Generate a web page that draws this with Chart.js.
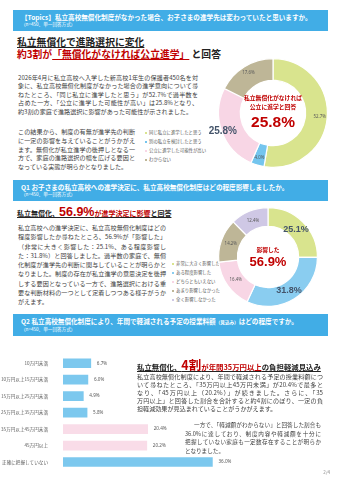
<!DOCTYPE html>
<html lang="ja">
<head>
<meta charset="UTF-8">
<title>私立高校無償化 アンケート結果</title>
<script src="https://cdn.jsdelivr.net/npm/chart.js"></script>
<style>
  html, body { margin: 0; padding: 0; background: #fff; }
  body {
    width: 340px; height: 480px; position: relative; overflow: hidden;
    font-family: "Noto Sans CJK JP", "Noto Sans", sans-serif; color: #333;
  }
  .qbar {
    position: absolute; left: 13px; width: 315px; background: #41ADE6; color: #fff;
    box-sizing: border-box; padding: 3px 0 0 8px;
  }
  .qbar .q { font-size: 6.6px; font-weight: bold; line-height: 8px; white-space: nowrap; }
  .qbar .n { font-size: 4.6px; line-height: 6px; white-space: nowrap; }
  .qbar small { font-size: 4.6px; }
  .para { position: absolute; font-size: 6.1px; color: #404040; }
  .para span { display: block; text-align: justify; text-align-last: justify; }
  .para span.last { text-align-last: left; }
  .title { position: absolute; font-weight: bold; white-space: nowrap; color: #222; }
  .red { color: #C00000; }
  .ul { text-decoration: underline; text-underline-offset: 1px; }
  .legend { position: absolute; font-size: 4.4px; color: #595959; }
  .legend div { height: 9px; line-height: 9px; white-space: nowrap; }
  .legend i { display: inline-block; width: 2px; height: 2px; margin-right: 2px; vertical-align: middle; }
  .center { position: absolute; text-align: center; color: #C00000; font-weight: bold; white-space: nowrap; }
  canvas { position: absolute; }
</style>
</head>
<body>

<div class="qbar" style="top:10px;height:21px;">
  <div class="q">【Topics】私立高校無償化制度がなかった場合、お子さまの進学先は変わっていたと思いますか。</div>
  <div class="n">（n=450、単一回答方式）</div>
</div>

<div class="title ul" style="left:17px;top:36px;font-size:9.8px;line-height:13px;">私立無償化で進路選択に変化</div>
<div class="title" style="left:17px;top:48px;font-size:9.8px;line-height:13px;"><span class="red">約3割が<span class="ul">「無償化がなければ公立進学」</span></span> と回答</div>

<div class="para" style="left:18px;top:74px;width:180px;line-height:8.4px;">
  <span>2026年4月に私立高校へ入学した新高校1年生の保護者450名を対</span>
  <span>象に、私立高校無償化制度がなかった場合の進学意向について尋</span>
  <span>ねたところ、「同じ私立に進学したと思う」が52.7%で過半数を</span>
  <span>占めた一方、「公立に進学した可能性が高い」は25.8%となり、</span>
  <span class="last">約3割の家庭で進路選択に影響があった可能性が示されました。</span>
</div>
<div class="para" style="left:18px;top:128px;width:117px;line-height:8.8px;">
  <span>この結果から、制度の有無が進学先の判断</span>
  <span>に一定の影響を与えていることがうかがえ</span>
  <span>ます。無償化が私立進学の後押しとなる一</span>
  <span>方で、家庭の進路選択の幅を広げる要因と</span>
  <span class="last">なっている実態が明らかとなりました。</span>
</div>

<div class="legend" id="legend1" style="left:145px;top:128px;"></div>
<canvas id="topicChart" width="140" height="120" style="left:200px;top:53px;"></canvas>
<div class="center" style="left:243px;top:93px;width:60px;font-size:5.8px;line-height:9px;">私立無償化がなければ<br>公立に進学と回答</div>
<div class="center" style="left:243px;top:113px;width:60px;font-size:15.5px;line-height:18px;font-family:'Liberation Sans','Noto Sans',sans-serif;">25.8%</div>

<div class="qbar" style="top:180px;height:21px;">
  <div class="q">Q1 お子さまの私立高校への進学決定に、私立高校無償化制度はどの程度影響しましたか。</div>
  <div class="n">（n=450、単一回答方式）</div>
</div>

<div class="title ul" style="left:17px;top:205px;font-size:7px;line-height:15px;">私立無償化、<span class="red" style="font-size:12.5px;font-family:'Liberation Sans','Noto Sans',sans-serif;">56.9%</span><span class="red">が進学決定に影響</span>と回答</div>

<div class="para" style="left:18px;top:223px;width:148px;line-height:9.3px;">
  <span>私立高校への進学決定に、私立高校無償化制度はどの</span>
  <span>程度影響したか尋ねたところ、56.9%が「影響した」</span>
  <span>（非常に大きく影響した：25.1%、ある程度影響し</span>
  <span>た：31.8%）と回答しました。過半数の家庭で、無償</span>
  <span>化制度が進学先の判断に関与していることが明らかと</span>
  <span>なりました。制度の存在が私立進学の意思決定を後押</span>
  <span>しする要因となっている一方で、進路選択における重</span>
  <span>要な判断材料の一つとして定着しつつある様子がうか</span>
  <span class="last">がえます。</span>
</div>

<div class="legend" id="legend2" style="left:172px;top:259px;"></div>
<canvas id="q1Chart" width="135" height="112" style="left:205px;top:200px;"></canvas>
<div class="center" style="left:238px;top:245px;width:60px;font-size:5.8px;line-height:9px;">影響した</div>
<div class="center" style="left:238px;top:254px;width:60px;font-size:13px;line-height:16px;font-family:'Liberation Sans','Noto Sans',sans-serif;">56.9%</div>

<div class="qbar" style="top:314px;height:22px;">
  <div class="q">Q2 私立高校無償化制度により、年間で軽減される予定の授業料額<small>（見込み）</small>はどの程度ですか。</div>
  <div class="n">（n=450、単一回答方式）</div>
</div>

<canvas id="q2Chart" width="340" height="137" style="left:0;top:343px;"></canvas>

<div class="title ul" style="left:137px;top:357px;font-size:7.4px;line-height:15px;">私立無償化、<span class="red" style="font-size:12.5px;">4割</span><span class="red">が年間35万円以上</span>の負担軽減見込み</div>

<div class="para" style="left:137px;top:373px;width:186px;line-height:7.9px;">
  <span>私立高校無償化制度により、年間で軽減される予定の授業料額につ</span>
  <span>いて尋ねたところ、「35万円以上45万円未満」が20.4%で最多と</span>
  <span>なり、「45万円以上（20.2%）」が続きました。さらに、「35</span>
  <span>万円以上」と回答した割合を合計すると約4割にのぼり、一定の負</span>
  <span class="last">担軽減効果が見込まれていることがうかがえます。</span>
</div>
<div class="para" style="left:185px;top:421px;width:136px;line-height:8.7px;font-size:5.6px;">
  <span style="padding-left:9px;">一方で、「軽減額がわからない」と回答した割合も</span>
  <span>36.0%に達しており、制度内容や軽減額を十分に</span>
  <span>把握していない家庭も一定数存在することが明らか</span>
  <span class="last">となりました。</span>
</div>

<div style="position:absolute;right:10px;top:469px;font-size:4.5px;color:#888;">2/4</div>

<script>
// Topics: 無償化がなかった場合の進学先
const topicLabels = ['同じ私立に進学したと思う', '別の私立を検討したと思う', '公立に進学した可能性が高い', 'わからない'];
const topicValues = [52.7, 4.0, 25.8, 17.6];
const topicColors = ['#D9E48E', '#74C5EE', '#F8D6E5', '#BEB697'];

// Q1: 進学決定への影響
const q1Labels = ['非常に大きく影響した', 'ある程度影響した', 'どちらともいえない', 'あまり影響しなかった', '全く影響しなかった'];
const q1Values = [25.1, 31.8, 16.4, 14.2, 12.4];
const q1Colors = ['#D9E48E', '#8ACDF0', '#F8D6E5', '#BEB697', '#CFC8E5'];

// Q2: 年間で軽減される授業料額
const q2Labels = ['10万円未満', '10万円以上15万円未満', '15万円以上25万円未満', '25万円以上35万円未満', '35万円以上45万円未満', '45万円以上', '正確に把握していない'];
const q2Values = [6.7, 6.0, 4.9, 5.8, 20.4, 20.2, 36.0];
const q2Colors = ['#7CC8EE', '#7CC8EE', '#7CC8EE', '#7CC8EE', '#F9DCE8', '#F9DCE8', '#7CC8EE'];
const q2Ticks = [0, 5, 10, 15, 20, 25, 30, 35, 40];

function buildLegend(id, labels, colors) {
  let html = '';
  labels.forEach((l, i) => {
    html += `<div><i style="background:${colors[i]}"></i>${l}</div>`;
  });
  document.getElementById(id).innerHTML = html;
}
buildLegend('legend1', topicLabels, topicColors);
buildLegend('legend2', q1Labels, q1Colors);

// percent labels on the donut segments
const arcLabels = {
  id: 'arcLabels',
  afterDatasetsDraw(chart, args, opts) {
    const ctx = chart.ctx;
    const meta = chart.getDatasetMeta(0);
    const data = chart.data.datasets[0].data;
    meta.data.forEach((arc, i) => {
      const big = opts.big.includes(i);
      const mid = (arc.startAngle + arc.endAngle) / 2;
      const r = arc.outerRadius * (big ? opts.bigR : opts.smallR);
      ctx.save();
      ctx.font = big ? `bold ${opts.bigSize}px "Liberation Sans", "Noto Sans", sans-serif` : '4.4px "Noto Sans", sans-serif';
      ctx.fillStyle = big ? '#44546A' : '#595959';
      ctx.textAlign = 'center';
      ctx.textBaseline = 'middle';
      ctx.fillText(data[i].toFixed(1) + '%', arc.x + Math.cos(mid) * r, arc.y + Math.sin(mid) * r);
      ctx.restore();
    });
  }
};

function donut(id, labels, values, colors, cutout, padding, labelOpts) {
  return new Chart(document.getElementById(id), {
    type: 'doughnut',
    data: {
      labels: labels,
      datasets: [{ data: values, backgroundColor: colors, borderColor: '#fff', borderWidth: 1.2 }]
    },
    options: {
      responsive: false,
      animation: false,
      cutout: cutout,
      layout: { padding: padding },
      plugins: { legend: { display: false }, tooltip: { enabled: false }, arcLabels: labelOpts }
    },
    plugins: [arcLabels]
  });
}

donut('topicChart', topicLabels, topicValues, topicColors, '60%',
  { left: 18, right: 12, top: 5, bottom: 5 },
  { big: [2], bigR: 0.98, smallR: 0.86, bigSize: 10 });

donut('q1Chart', q1Labels, q1Values, q1Colors, '62%',
  { left: 13, right: 22, top: 7, bottom: 5 },
  { big: [0, 1], bigR: 0.8, smallR: 0.8, bigSize: 9 });

// value labels at the end of each bar
const barValues = {
  id: 'barValues',
  afterDatasetsDraw(chart) {
    const ctx = chart.ctx;
    const meta = chart.getDatasetMeta(0);
    const data = chart.data.datasets[0].data;
    ctx.save();
    ctx.font = '4.6px "Noto Sans", sans-serif';
    ctx.fillStyle = '#595959';
    ctx.textBaseline = 'middle';
    meta.data.forEach((bar, i) => {
      ctx.fillText(data[i].toFixed(1) + '%', bar.x + 6, bar.y);
    });
    ctx.restore();
  }
};

new Chart(document.getElementById('q2Chart'), {
  type: 'bar',
  data: {
    labels: q2Labels,
    datasets: [{ data: q2Values, backgroundColor: q2Colors, barThickness: 9, xAxisID: 'x' }]
  },
  options: {
    indexAxis: 'y',
    responsive: false,
    animation: false,
    layout: { padding: { top: 2, right: 111, bottom: 3, left: 0 } },
    scales: {
      y: {
        grid: { display: false },
        border: { display: false },
        ticks: { font: { size: 4.6, family: '"Noto Sans CJK JP"' }, color: '#595959', padding: 7 },
        afterFit(s) { s.width = 63; }
      },
      x: { display: false, min: 0, max: 40 },
      // top axis labels: in the original they sit slightly narrower than the bars
      x2: {
        type: 'linear', axis: 'x', position: 'top', min: 0, max: 44.3,
        grid: { display: false },
        border: { display: false },
        afterBuildTicks(s) { s.ticks = q2Ticks.map(v => ({ value: v })); },
        ticks: {
          callback: v => v.toFixed(1) + '%',
          font: { size: 4.6 }, color: '#595959', padding: 2, maxRotation: 0, autoSkip: false
        },
        afterFit(s) { s.height = 10; }
      }
    },
    plugins: { legend: { display: false }, tooltip: { enabled: false } }
  },
  plugins: [barValues]
});
</script>
</body>
</html>
